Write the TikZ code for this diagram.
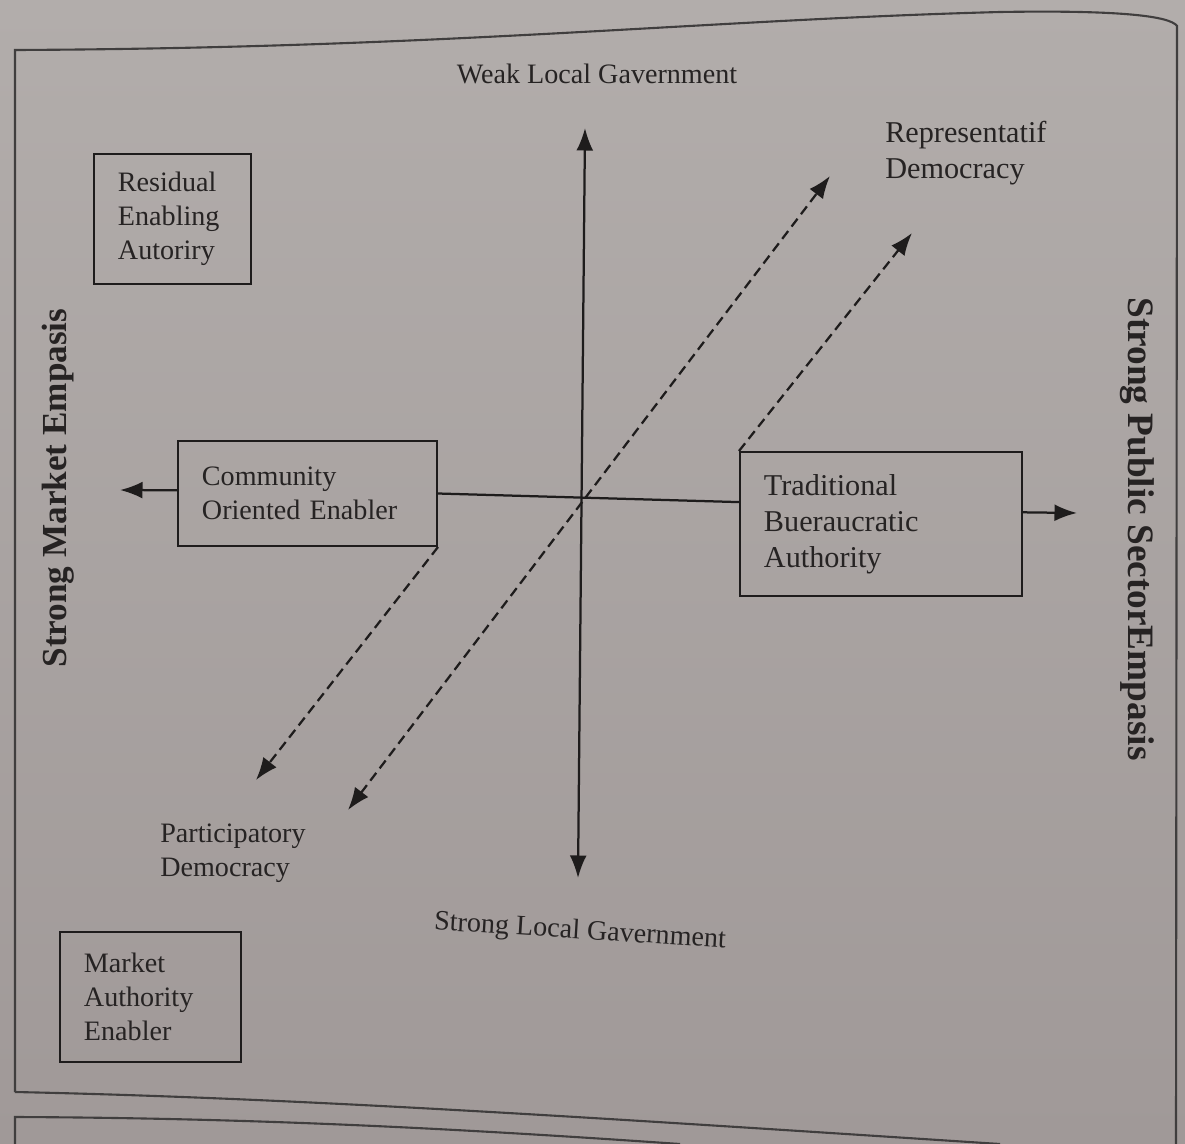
\documentclass[tikz,border=0pt]{standalone}
\usepackage{fontspec}
\setmainfont{Liberation Serif}
\usetikzlibrary{arrows.meta,calc}
\definecolor{bgtop}{RGB}{178,173,171}
\definecolor{bgbot}{RGB}{160,153,152}
\definecolor{ink}{RGB}{30,28,28}
\definecolor{txt}{RGB}{38,35,35}
\begin{document}
\begin{tikzpicture}[x=0.025cm,y=-0.025cm,
  mybox/.style={draw=ink,line width=1.4pt,rectangle,inner xsep=0.6cm,inner ysep=0pt,align=left,text=txt,font=\fontsize{20}{24}\selectfont},
  lbl/.style={inner sep=0pt,text=txt,font=\fontsize{20}{24}\selectfont,align=left},
  sidelbl/.style={inner sep=0pt,text=txt,font=\fontsize{25}{30}\selectfont\bfseries},
  axisarr/.style={draw=ink,line width=1.6pt,-{Latex[length=16pt,width=12pt]}},
  dasharr/.style={draw=ink,line width=1.6pt,dash pattern=on 7pt off 4pt,-{Latex[length=16pt,width=12pt]}},
  frame/.style={draw=ink!85,line width=1.5pt}]
\useasboundingbox (0,0) rectangle (1185,1144);
\fill[top color=bgtop,bottom color=bgbot] (0,0) rectangle (1185,1144);
% frames
\draw[frame] (15,1092) -- (15,50) .. controls (450,48) and (700,20) .. (1000,12) .. controls (1120,10) and (1170,16) .. (1177,26) -- (1176,1144);
\draw[frame] (15,1092) .. controls (300,1098) and (600,1118) .. (1000,1144);
\draw[frame] (15,1144) -- (15,1117) .. controls (250,1118) and (450,1128) .. (680,1144);
% boxes
\node[mybox,minimum width=3.925cm,minimum height=3.25cm,text width=2.725cm] (rea) at (172.5,219) {Residual\\Enabling\\Autoriry};
\node[mybox,minimum width=4.525cm,minimum height=3.25cm,text width=3.325cm] (mae) at (150.5,997) {Market\\Authority\\Enabler};
\node[mybox,minimum width=6.475cm,minimum height=2.625cm,text width=5.275cm] (co) at (307.5,493.5) {Community\\Oriented Enabler};
\node[mybox,minimum width=7.05cm,minimum height=3.6cm,text width=5.85cm,font=\fontsize{21.5}{25.5}\selectfont] (tba) at (881,524) {Traditional\\Bueraucratic\\Authority};
% axis end points
\coordinate (lt) at (120,490);
\coordinate (rt) at (1077,513);
\coordinate (tp) at (585,128);
\coordinate (bt) at (578,878);
\coordinate (tbain) at ($(tba.north west)!0.35!(tba.south west)$);
\coordinate (tbaout) at ($(tba.north east)!0.42!(tba.south east)$);
\coordinate (coin) at ($(co.north west)!0.47!(co.south west)$);
% axes
\draw[axisarr] (coin) -- (lt);
\draw[draw=ink,line width=1.6pt] (co.east) -- (tbain);
\draw[axisarr] (tbaout) -- (rt);
\draw[axisarr,{Latex[length=16pt,width=12pt]}-{Latex[length=16pt,width=12pt]}] (tp) -- (bt);
% dashed arrows
\coordinate (pda) at (256,780);
\coordinate (pdb) at (348,810);
\coordinate (rda) at (830,176);
\coordinate (rdb) at (912,233);
\draw[dasharr] (co.south east) -- (pda);
\draw[dasharr,{Latex[length=16pt,width=12pt]}-{Latex[length=16pt,width=12pt]}] (pdb) -- (rda);
\draw[dasharr] (tba.north west) -- (rdb);
% labels
\node[lbl] (weak) at (597,74) {Weak Local Gavernment};
\node[lbl,anchor=west,font=\fontsize{21.5}{26}\selectfont] (rep) at (885,153) {Representatif\\Democracy};
\node[lbl,anchor=west] (par) at (160,853) {Participatory\\Democracy};
\node[lbl,rotate=-3.5] (strong) at (580,932) {Strong Local Gavernment};
\node[sidelbl,rotate=90] (sme) at (58,488) {Strong Market Empasis};
\node[sidelbl,rotate=-90,font=\fontsize{26.5}{31}\selectfont\bfseries] (spe) at (1137,529) {Strong Public SectorEmpasis};
\end{tikzpicture}
\end{document}
